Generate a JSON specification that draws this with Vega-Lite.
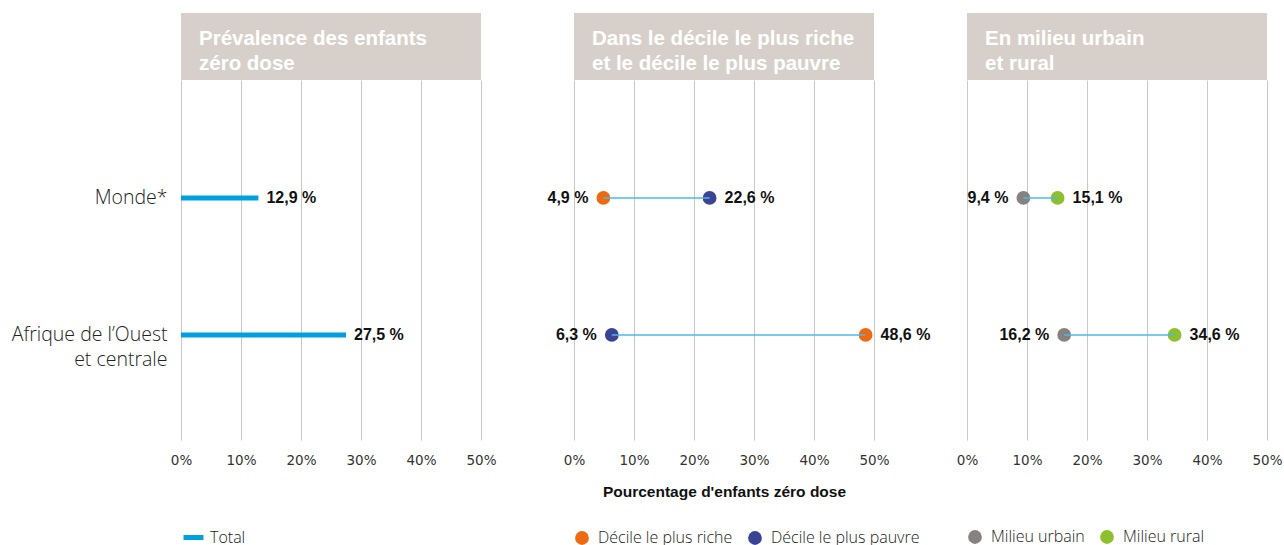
{
  "$schema": "https://vega.github.io/schema/vega-lite/v6.json",
  "background": "white",
  "padding": {"left": 11, "top": 13, "right": 2, "bottom": 2},
  "autosize": {"type": "pad"},
  "columns": 3,
  "spacing": {"row": 0, "column": 93},
  "bounds": "flush",
  "align": "each",
  "resolve": {
    "scale": {"color": "independent", "x": "independent", "y": "independent"},
    "legend": {"color": "independent"}
  },
  "config": {
    "view": {"stroke": null},
    "font": "Liberation Sans",
    "axisX": {
      "grid": true,
      "gridColor": "#c8c8c8",
      "gridWidth": 1,
      "domain": false,
      "ticks": true,
      "tickColor": "#c8c8c8",
      "tickSize": 3,
      "labelFont": "DejaVu Sans",
      "labelFontSize": 13.5,
      "labelColor": "#333333",
      "labelPadding": 13,
      "labelFlush": false
    },
    "legend": {
      "title": null,
      "orient": "bottom",
      "direction": "horizontal",
      "labelFont": "Open Sans",
      "labelFontSize": 16,
      "labelFontWeight": 300,
      "labelColor": "#222222",
      "labelOffset": 8,
      "columnPadding": 14,
      "symbolOpacity": 1
    },
    "title": {
      "anchor": "start",
      "frame": "group",
      "orient": "top",
      "dx": 18,
      "color": "white",
      "font": "Liberation Sans",
      "fontSize": 20.5,
      "fontWeight": "bold",
      "lineHeight": 25,
      "baseline": "top",
      "offset": -61
    }
  },
  "concat": [
    {
      "width": 300, "height": 67,
      "view": {"fill": "#d7d0ca", "stroke": null},
      "title": {"text": ["Prévalence des enfants", "zéro dose"]},
      "data": {"values": [{"h": 1}]},
      "mark": {"type": "rect", "color": "#d7d0ca"},
      "encoding": {}
    },
    {
      "width": 300, "height": 67,
      "view": {"fill": "#d7d0ca", "stroke": null},
      "title": {"text": ["Dans le décile le plus riche", "et le décile le plus pauvre"]},
      "data": {"values": [{"h": 1}]},
      "mark": {"type": "rect", "color": "#d7d0ca"},
      "encoding": {}
    },
    {
      "width": 300, "height": 67,
      "view": {"fill": "#d7d0ca", "stroke": null},
      "title": {"text": ["En milieu urbain", "et rural"]},
      "data": {"values": [{"h": 1}]},
      "mark": {"type": "rect", "color": "#d7d0ca"},
      "encoding": {}
    },
    {
      "width": 300, "height": 357,
      "data": {"values": [
        {"region": "Monde*", "series": "Total", "value": 12.9},
        {"region": "Afrique de l’Ouest et centrale", "series": "Total", "value": 27.5}
      ]},
      "transform": [
        {"calculate": "replace(format(datum.value, '.1f'), '.', ',') + ' %'", "as": "label"}
      ],
      "encoding": {
        "y": {
          "field": "region", "type": "nominal", "sort": null,
          "scale": {"type": "point", "padding": 0.803, "align": 0.536},
          "axis": {
            "title": null, "domain": false, "ticks": false,
            "labelFont": "Open Sans", "labelFontSize": 19.5, "labelFontWeight": 300,
            "labelColor": "#222222", "labelPadding": 14, "labelLineHeight": 25,
            "labelExpr": "datum.value == 'Afrique de l’Ouest et centrale' ? ['Afrique de l’Ouest', 'et centrale'] : datum.label"
          }
        }
      },
      "layer": [
        {
          "mark": {"type": "rule", "strokeWidth": 5},
          "encoding": {
            "x": {
              "field": "value", "type": "quantitative", "scale": {"domain": [0, 50]},
              "axis": {"values": [0, 10, 20, 30, 40, 50], "labelExpr": "datum.value + '%'", "title": null}
            },
            "x2": {"datum": 0},
            "color": {
              "field": "series", "type": "nominal",
              "scale": {"domain": ["Total"], "range": ["#00a0e0"]},
              "legend": {"symbolType": "stroke", "symbolStrokeWidth": 5, "symbolSize": 400, "labelOffset": 4, "offset": 58}
            }
          }
        },
        {
          "mark": {"type": "text", "align": "left", "dx": 8, "font": "Liberation Sans", "fontWeight": "bold", "fontSize": 16, "color": "#111111"},
          "encoding": {
            "x": {"field": "value", "type": "quantitative"},
            "text": {"field": "label"}
          }
        }
      ]
    },
    {
      "width": 300, "height": 357,
      "data": {"values": [
        {"region": "Monde*", "group": "Décile le plus riche", "value": 4.9},
        {"region": "Monde*", "group": "Décile le plus pauvre", "value": 22.6},
        {"region": "Afrique de l’Ouest et centrale", "group": "Décile le plus riche", "value": 48.6},
        {"region": "Afrique de l’Ouest et centrale", "group": "Décile le plus pauvre", "value": 6.3}
      ]},
      "transform": [
        {"calculate": "replace(format(datum.value, '.1f'), '.', ',') + ' %'", "as": "label"},
        {"joinaggregate": [{"op": "min", "field": "value", "as": "minv"}], "groupby": ["region"]}
      ],
      "encoding": {
        "y": {
          "field": "region", "type": "nominal", "sort": null,
          "scale": {"type": "point", "padding": 0.803, "align": 0.536},
          "axis": null
        }
      },
      "layer": [
        {
          "mark": {"type": "circle", "size": 190, "opacity": 1},
          "encoding": {
            "x": {
              "field": "value", "type": "quantitative", "scale": {"domain": [0, 50]},
              "axis": {"values": [0, 10, 20, 30, 40, 50], "labelExpr": "datum.value + '%'", "title": "Pourcentage d'enfants zéro dose", "titleFont": "Liberation Sans", "titleFontSize": 15.5, "titleFontWeight": "bold", "titleColor": "#111111", "titlePadding": 18}
            },
            "color": {
              "field": "group", "type": "nominal",
              "scale": {"domain": ["Décile le plus riche", "Décile le plus pauvre"], "range": ["#ee6a12", "#3b4395"]},
              "legend": {"symbolType": "circle", "symbolSize": 190, "offset": 30}
            }
          }
        },
        {
          "mark": {"type": "rule", "color": "#4db8ea", "strokeWidth": 1.5},
          "encoding": {
            "x": {"aggregate": "min", "field": "value", "type": "quantitative"},
            "x2": {"aggregate": "max", "field": "value"}
          }
        },
        {
          "transform": [{"filter": "datum.value == datum.minv"}],
          "mark": {"type": "text", "align": "right", "dx": -15, "font": "Liberation Sans", "fontWeight": "bold", "fontSize": 16, "color": "#111111"},
          "encoding": {"x": {"field": "value", "type": "quantitative"}, "text": {"field": "label"}}
        },
        {
          "transform": [{"filter": "datum.value != datum.minv"}],
          "mark": {"type": "text", "align": "left", "dx": 15, "font": "Liberation Sans", "fontWeight": "bold", "fontSize": 16, "color": "#111111"},
          "encoding": {"x": {"field": "value", "type": "quantitative"}, "text": {"field": "label"}}
        }
      ]
    },
    {
      "width": 300, "height": 357,
      "data": {"values": [
        {"region": "Monde*", "group": "Milieu urbain", "value": 9.4},
        {"region": "Monde*", "group": "Milieu rural", "value": 15.1},
        {"region": "Afrique de l’Ouest et centrale", "group": "Milieu urbain", "value": 16.2},
        {"region": "Afrique de l’Ouest et centrale", "group": "Milieu rural", "value": 34.6}
      ]},
      "transform": [
        {"calculate": "replace(format(datum.value, '.1f'), '.', ',') + ' %'", "as": "label"},
        {"joinaggregate": [{"op": "min", "field": "value", "as": "minv"}], "groupby": ["region"]}
      ],
      "encoding": {
        "y": {
          "field": "region", "type": "nominal", "sort": null,
          "scale": {"type": "point", "padding": 0.803, "align": 0.536},
          "axis": null
        }
      },
      "layer": [
        {
          "mark": {"type": "circle", "size": 190, "opacity": 1},
          "encoding": {
            "x": {
              "field": "value", "type": "quantitative", "scale": {"domain": [0, 50]},
              "axis": {"values": [0, 10, 20, 30, 40, 50], "labelExpr": "datum.value + '%'", "title": null}
            },
            "color": {
              "field": "group", "type": "nominal",
              "scale": {"domain": ["Milieu urbain", "Milieu rural"], "range": ["#878282", "#8dbf2e"]},
              "legend": {"symbolType": "circle", "symbolSize": 190, "offset": 62}
            }
          }
        },
        {
          "mark": {"type": "rule", "color": "#4db8ea", "strokeWidth": 1.5},
          "encoding": {
            "x": {"aggregate": "min", "field": "value", "type": "quantitative"},
            "x2": {"aggregate": "max", "field": "value"}
          }
        },
        {
          "transform": [{"filter": "datum.value == datum.minv"}],
          "mark": {"type": "text", "align": "right", "dx": -15, "font": "Liberation Sans", "fontWeight": "bold", "fontSize": 16, "color": "#111111"},
          "encoding": {"x": {"field": "value", "type": "quantitative"}, "text": {"field": "label"}}
        },
        {
          "transform": [{"filter": "datum.value != datum.minv"}],
          "mark": {"type": "text", "align": "left", "dx": 15, "font": "Liberation Sans", "fontWeight": "bold", "fontSize": 16, "color": "#111111"},
          "encoding": {"x": {"field": "value", "type": "quantitative"}, "text": {"field": "label"}}
        }
      ]
    }
  ]
}
